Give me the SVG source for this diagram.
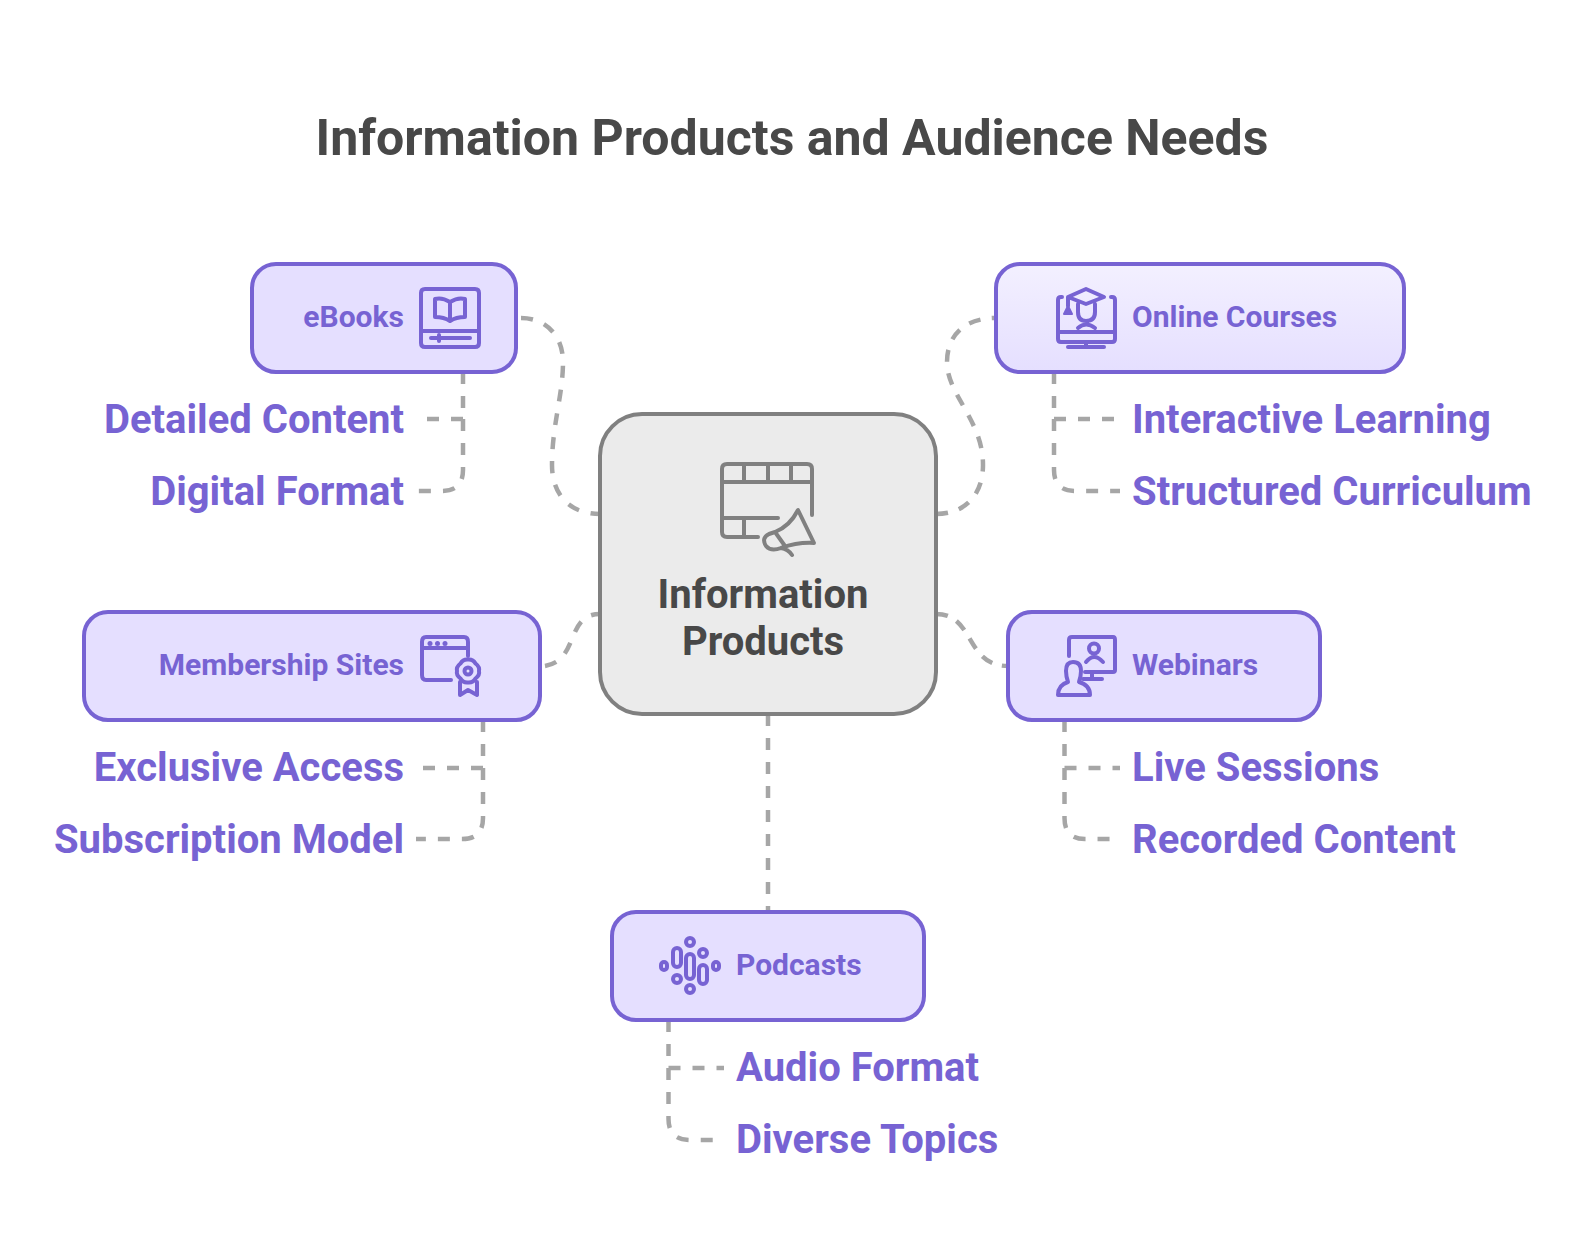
<svg xmlns="http://www.w3.org/2000/svg" width="1584" height="1260" viewBox="0 0 1584 1260">
<style>
text{font-family:Roboto,"Liberation Sans",sans-serif;font-weight:700}
.title{font-size:50px;fill:#484848}
.ct{font-size:40px;fill:#484848;text-anchor:middle}
.nl{font-size:30px;fill:#7763D3}
.sl{font-size:40px;fill:#7763D3}
.e{text-anchor:end}
.box{fill:#E5DFFF;stroke:#7763D3;stroke-width:4}
.ic{fill:none;stroke:#7763D3;stroke-width:4;stroke-linecap:round;stroke-linejoin:round}
.icg{fill:none;stroke:#808080;stroke-width:4;stroke-linecap:round;stroke-linejoin:round}
.c{fill:none;stroke:#A6A6A6;stroke-width:4.500;stroke-dasharray:12 12}
</style>
<defs><linearGradient id="g" x1="0" y1="0" x2="0" y2="1"><stop offset="0" stop-color="#F3F0FF"/><stop offset="1" stop-color="#E5DFFF"/></linearGradient></defs>
<rect width="1584" height="1260" fill="#fff"/>
<text class="title" x="792" y="155" text-anchor="middle">Information Products and Audience Needs</text>
<g id="connectors">
<path class="c" d="M521 318C545 318 563 335 563 362C563 395 552 425 552 465C552 495 570 514 600 514"/>
<path class="c" style="stroke-dasharray:12 11.400" d="M936 514C965 514 983 495 983 465C983 420 947 395 947 362C947 335 965 318 996 318"/>
<path class="c" d="M545 666C580 660 565 614 600 614"/>
<path class="c" style="stroke-dasharray:12 10" d="M936 614C975 614 965 666 1008 666"/>
<path class="c" d="M768 714V911"/>
<path class="c" d="M463 372V419M463 419H424M463 419V470Q463 491 442 491H416"/>
<path class="c" d="M1054 372V419M1054 419H1118M1054 419V470Q1054 491 1075 491H1120"/>
<path class="c" d="M483 720V768M483 768H420M483 768V818Q483 839 462 839H416"/>
<path class="c" d="M1064.500 720V768M1064.500 768H1120M1064.500 768V818Q1064.500 839 1085 839H1114"/>
<path class="c" d="M668.500 1020V1068M668.500 1068H724M668.500 1068V1119Q668.500 1140 690 1140H718"/>
</g>
<g id="center">
<rect x="600" y="414" width="336" height="300" rx="42" fill="#EBEBEB" stroke="#808080" stroke-width="4"/>
<path class="icg" d="M812 515V469Q812 464 807 464H727Q722 464 722 469V532Q722 537 727 537H758M722 482H812M744 464V482M768 464V482M791 464V482M722 518H778M744 518V537"/>
<path class="icg" d="M798 510Q790 526 775 532L769 534Q761 538 766 546Q771 552 781 548Q798 542 814 543ZM775 532L785 546M781 548Q788 549 792 555"/>
<text class="ct" x="763" y="607.500">Information</text>
<text class="ct" x="763" y="655">Products</text>
</g>
<g id="ebooks">
<rect class="box" x="252" y="264" width="264" height="108" rx="24"/>
<path class="ic" d="M425 289H475Q479 289 479 293V343Q479 347 475 347H425Q421 347 421 343V293Q421 289 425 289ZM421 331H479M431 338H470M439 335V341"/>
<path class="ic" d="M450 302Q442 297 435 299V317Q444 317 450 321Q456 317 465 317V299Q458 297 450 302ZM450 302V319"/>
<text class="nl e" x="404" y="327">eBooks</text>
</g>
<g id="online-courses">
<rect x="996" y="264" width="408" height="108" rx="24" fill="url(#g)" stroke="#7763D3" stroke-width="4"/>
<path class="ic" d="M1062 297H1061Q1058 297 1058 300V339Q1058 342 1061 342H1112Q1115 342 1115 339V300Q1115 297 1112 297H1111M1058 332H1115M1068 347H1104M1086 342V347"/>
<path class="ic" d="M1086 289L1104 297L1086 304L1068 297ZM1078 304V312Q1078 321 1086 321Q1095 321 1095 312V304M1078 328Q1086 321 1095 328M1068 297V306"/>
<path d="M1064 314L1068 306L1072 314Z" fill="#7763D3" stroke="#7763D3" stroke-width="2" stroke-linejoin="round"/>
<text class="nl" x="1132" y="327">Online Courses</text>
</g>
<g id="membership-sites">
<rect class="box" x="84" y="612" width="456" height="108" rx="24"/>
<path class="ic" d="M451 680H426Q422 680 422 675V642Q422 637 426 637H464Q468 637 468 642V656M422 648H468"/>
<circle cx="430" cy="643.500" r="2.500" fill="#7763D3"/><circle cx="437.500" cy="643.500" r="2.500" fill="#7763D3"/><circle cx="445" cy="643.500" r="2.500" fill="#7763D3"/>
<path class="ic" d="M468 659.500Q473 659 475.500 663.500Q480 667 479 671Q480 675 475.500 678.500Q473 683 468 682.500Q463 683 460.500 678.500Q456 675 457 671Q456 667 460.500 663.500Q463 659 468 659.500ZM460 682V695L468 690L477 695V682"/>
<circle class="ic" cx="468" cy="671" r="3.500"/>
<text class="nl e" x="404" y="675">Membership Sites</text>
</g>
<g id="webinars">
<rect class="box" x="1008" y="612" width="312" height="108" rx="24"/>
<path class="ic" d="M1069 656V640Q1069 637 1072 637H1113Q1115 637 1115 640V670Q1115 672 1113 672H1085M1092 673V679M1083 679H1102"/>
<circle class="ic" cx="1094" cy="648.500" r="5"/>
<path class="ic" d="M1086 662Q1094 652 1103 662"/>
<path class="ic" d="M1068 682Q1066 676 1066 671Q1066 662 1073 662Q1081 662 1081 671Q1081 676 1079 682Q1090 685 1090 695H1058Q1058 685 1068 682Z"/>
<text class="nl" x="1132" y="675">Webinars</text>
</g>
<g id="podcasts">
<rect class="box" x="612" y="912" width="312" height="108" rx="24"/>
<g class="ic">
<rect x="686" y="954" width="8" height="25" rx="4"/><rect x="673" y="948" width="8" height="19" rx="4"/><rect x="699" y="965" width="8" height="19" rx="4"/>
<rect x="686" y="938" width="8" height="8" rx="4"/><rect x="686" y="985" width="8" height="8" rx="4"/><rect x="699" y="949" width="8" height="8" rx="4"/><rect x="673" y="975" width="8" height="8" rx="4"/><rect x="661" y="962" width="6" height="8" rx="3"/><rect x="713" y="962" width="6" height="8" rx="3"/>
</g>
<text class="nl" x="736" y="975">Podcasts</text>
</g>
<g id="labels">
<text class="sl e" x="404" y="433">Detailed Content</text>
<text class="sl e" x="404" y="505">Digital Format</text>
<text class="sl" x="1132" y="433">Interactive Learning</text>
<text class="sl" x="1132" y="505">Structured Curriculum</text>
<text class="sl e" x="404" y="781">Exclusive Access</text>
<text class="sl e" x="404" y="853">Subscription Model</text>
<text class="sl" x="1132" y="781">Live Sessions</text>
<text class="sl" x="1132" y="853">Recorded Content</text>
<text class="sl" x="736" y="1081">Audio Format</text>
<text class="sl" x="736" y="1153">Diverse Topics</text>
</g>
</svg>
